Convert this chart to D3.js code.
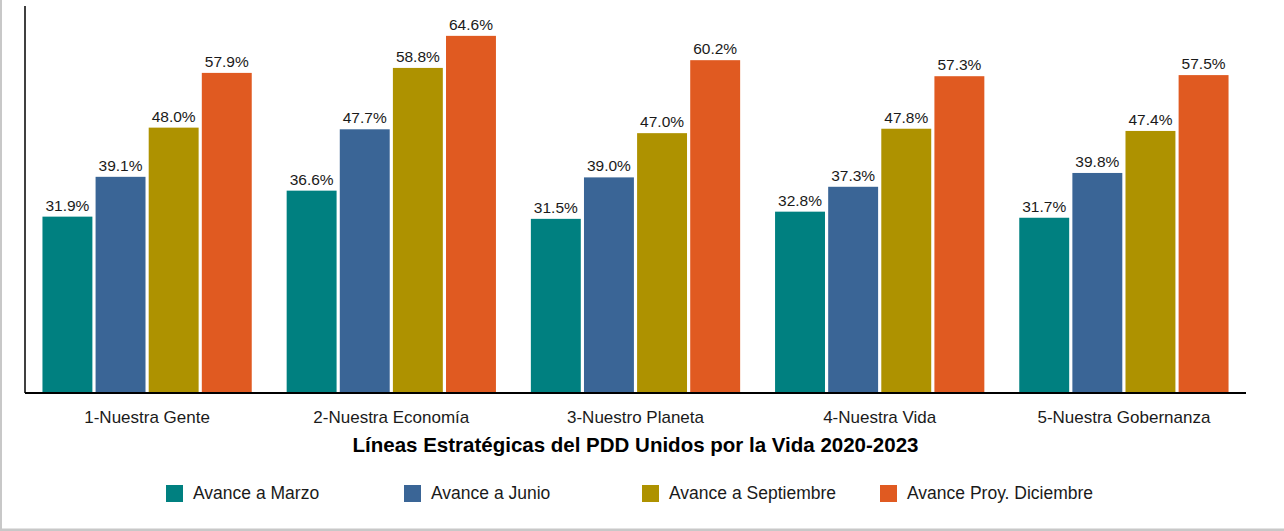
<!DOCTYPE html>
<html>
<head>
<meta charset="utf-8">
<script src="https://cdn.jsdelivr.net/npm/d3@7"></script>
<style>
  body { margin: 0; background: #fff; }
  text { font-family: "Liberation Sans", Arial, sans-serif; fill: #1a1a1a; }
</style>
</head>
<body>
<div id="chart"></div>
<script>
// categories and series values (percent)
const categories = ["1-Nuestra Gente", "2-Nuestra Economía", "3-Nuestro Planeta", "4-Nuestra Vida", "5-Nuestra Gobernanza"];
const seriesNames = ["Avance a Marzo", "Avance a Junio", "Avance a Septiembre", "Avance Proy. Diciembre"];
const marzo = [31.9, 36.6, 31.5, 32.8, 31.7];
const junio = [39.1, 47.7, 39.0, 37.3, 39.8];
const septiembre = [48.0, 58.8, 47.0, 47.8, 47.4];
const diciembre = [57.9, 64.6, 60.2, 57.3, 57.5];
const colors = ["#008080", "#3a6596", "#ae9200", "#e05a21"];
const title = "Líneas Estratégicas del PDD Unidos por la Vida 2020-2023";

const width = 1284, height = 531;
const margin = {top: 6, right: 38, bottom: 138, left: 25};

const svg = d3.select("#chart")
  .append("svg")
  .attr("width", width)
  .attr("height", height);

// frame lines (left + bottom, light gray)
svg.append("line").attr("x1", 1).attr("x2", 1).attr("y1", 0).attr("y2", height)
  .attr("stroke", "#c8c8c8").attr("stroke-width", 2);
svg.append("line").attr("x1", 0).attr("x2", width).attr("y1", height - 1).attr("y2", height - 1)
  .attr("stroke", "#c8c8c8").attr("stroke-width", 3);

const series = [marzo, junio, septiembre, diciembre];

const x0 = d3.scaleBand()
  .domain(categories)
  .range([margin.left, width - margin.right])
  .paddingInner(0.143)
  .paddingOuter(0.0715);

const x1 = d3.scaleBand()
  .domain(seriesNames)
  .range([0, x0.bandwidth()])
  .paddingInner(0.06);

const y = d3.scaleLinear()
  .domain([0, 70])
  .range([height - margin.bottom, margin.top]);

const groups = svg.selectAll(".group")
  .data(categories)
  .enter()
  .append("g")
  .attr("class", "group")
  .attr("transform", d => `translate(${x0(d)},0)`);

groups.each(function(cat, ci){
  const g = d3.select(this);
  const rows = seriesNames.map((s, si) => ({s: s, v: series[si][ci], c: colors[si]}));
  g.selectAll("rect")
    .data(rows)
    .enter()
    .append("rect")
    .attr("x", d => x1(d.s))
    .attr("y", d => y(d.v))
    .attr("width", x1.bandwidth())
    .attr("height", d => y(0) - y(d.v))
    .attr("fill", d => d.c);
  g.selectAll("text.val")
    .data(rows)
    .enter()
    .append("text")
    .attr("class", "val")
    .attr("x", d => x1(d.s) + x1.bandwidth() / 2)
    .attr("y", d => y(d.v) - 6)
    .attr("text-anchor", "middle")
    .style("font-size", "15.5px")
    .text(d => d.v.toFixed(1) + "%");
});

// axes
svg.append("line")
  .attr("x1", margin.left).attr("x2", margin.left)
  .attr("y1", y(70)).attr("y2", y(0))
  .attr("stroke", "#000").attr("stroke-width", 1.5);

const xAxis = svg.append("g")
  .attr("transform", `translate(0,${y(0)})`)
  .call(d3.axisBottom(x0).tickSize(0).tickPadding(0));
xAxis.select(".domain")
  .attr("d", `M${margin.left},0H${width - margin.right}`)
  .attr("stroke", "#000").attr("stroke-width", 2);
xAxis.selectAll(".tick text")
  .attr("dy", 0).attr("y", 30)
  .style("font-size", "17px")
  .style("font-family", "'Liberation Sans', Arial, sans-serif")
  .attr("fill", "#1a1a1a");

svg.append("text")
  .attr("x", (margin.left + width - margin.right) / 2)
  .attr("y", 452)
  .attr("text-anchor", "middle")
  .style("font-size", "20.5px")
  .style("font-weight", "bold")
  .style("fill", "#000")
  .text(title);

// legend
const legendX = d3.scalePoint().domain(seriesNames).range([166, 880]);
const legend = svg.selectAll(".legend")
  .data(seriesNames)
  .enter()
  .append("g")
  .attr("class", "legend")
  .attr("transform", d => `translate(${legendX(d)},485)`);
legend.append("rect")
  .attr("width", 17).attr("height", 17)
  .attr("fill", (d, i) => colors[i]);
legend.append("text")
  .attr("x", 27).attr("y", 14)
  .style("font-size", "17.5px")
  .text(d => d);
</script>
</body>
</html>
